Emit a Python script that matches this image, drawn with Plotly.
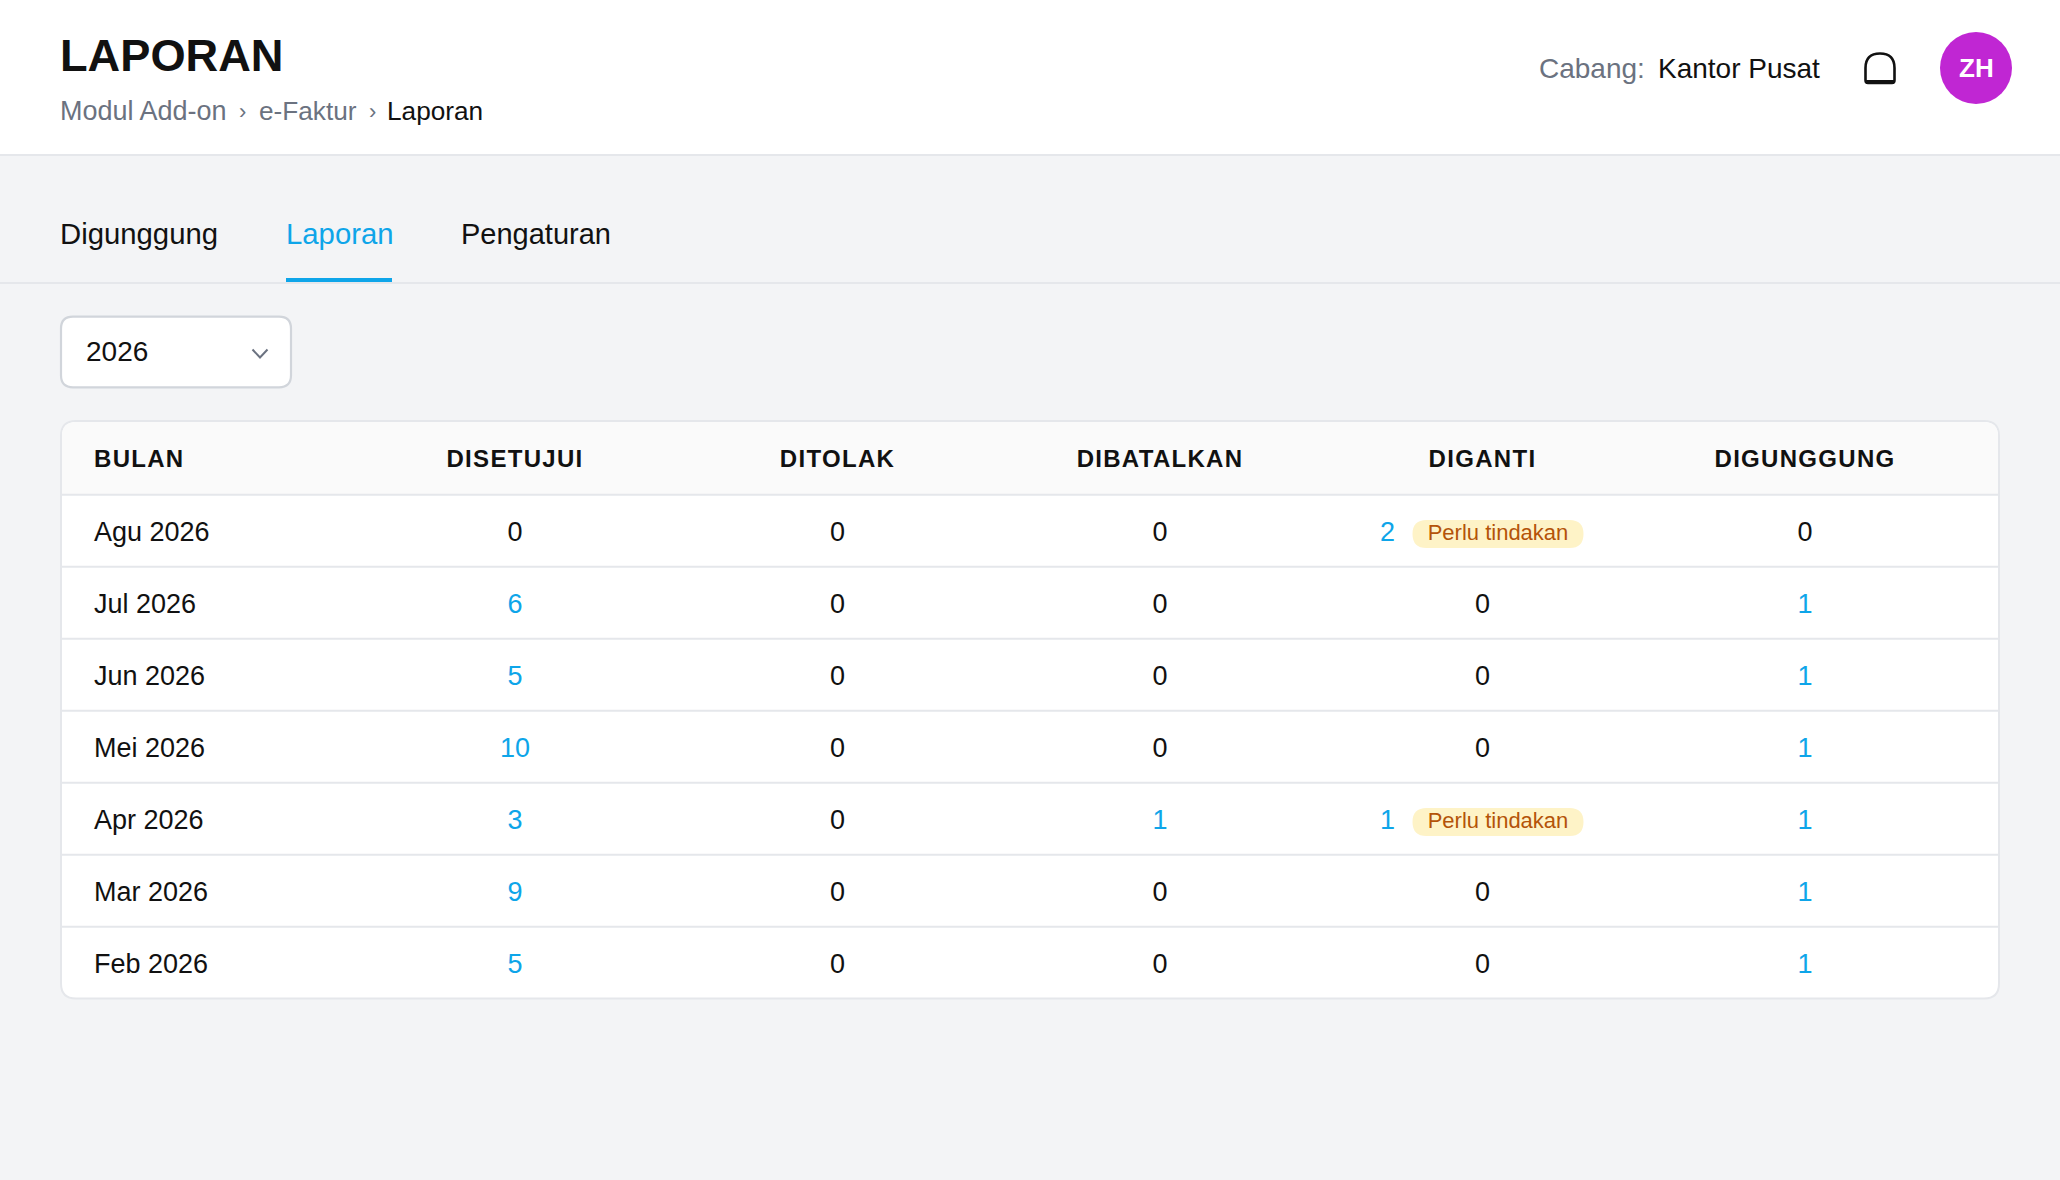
import plotly.graph_objects as go

columns = ['BULAN', 'DISETUJUI', 'DITOLAK', 'DIBATALKAN', 'DIGANTI', 'DIGUNGGUNG']
months = ['Agu 2026', 'Jul 2026', 'Jun 2026', 'Mei 2026', 'Apr 2026', 'Mar 2026', 'Feb 2026']
disetujui = [0, 6, 5, 10, 3, 9, 5]
ditolak = [0, 0, 0, 0, 0, 0, 0]
dibatalkan = [0, 0, 0, 0, 1, 0, 0]
diganti = [2, 0, 0, 0, 1, 0, 0]
digunggung = [0, 1, 1, 1, 1, 1, 1]
tabs = ['Digunggung', 'Laporan', 'Pengaturan']
badge_text = 'Perlu tindakan'

W = 2060
H = 1180
FONT = 'Liberation Sans'
INK = '#111111'
GREY = '#6b7280'
BLUE = '#0ea5e9'
LINE = '#e5e7eb'

month_x = 94
col_start = 515
col_step = 322.5
head_y = 461
row_start = 534
row_step = 72


def round_rect(x0, y0, x1, y1, r):
    return (f'M{x0 + r},{y0} L{x1 - r},{y0} Q{x1},{y0} {x1},{y0 + r} '
            f'L{x1},{y1 - r} Q{x1},{y1} {x1 - r},{y1} L{x0 + r},{y1} '
            f'Q{x0},{y1} {x0},{y1 - r} L{x0},{y0 + r} Q{x0},{y0} {x0 + r},{y0} Z')


def rect(fig, x0, y0, x1, y1, color):
    fig.add_shape(type='rect', x0=x0, y0=y0, x1=x1, y1=y1,
                  fillcolor=color, line_width=0, layer='below')


def label(fig, x, y, text, size, color=INK, bold=False, anchor='left'):
    fig.add_annotation(x=x, y=y, text=f'<b>{text}</b>' if bold else text,
                       showarrow=False, xanchor=anchor, yanchor='middle',
                       borderpad=0,
                       font=dict(family=FONT, size=size, color=color))


fig = go.Figure()

# page header
rect(fig, 0, 0, W, 154, 'white')
rect(fig, 0, 154, W, 156, LINE)
rect(fig, 0, 282, W, 284, LINE)
rect(fig, 286, 278, 392, 282, BLUE)

label(fig, 59, 55, 'LAPORAN', 45.2, bold=True)
label(fig, 59, 111, 'Modul Add-on', 27, GREY)
label(fig, 242.5, 111, '›', 22, GREY, anchor='center')
label(fig, 258, 111, 'e-Faktur', 26.2, GREY)
label(fig, 372, 111, '›', 22, GREY, anchor='center')
label(fig, 386, 111, 'Laporan', 26.2)

label(fig, 1538, 68, 'Cabang:', 28, GREY)
label(fig, 1657, 68, 'Kantor Pusat', 28)

# bell icon
fig.add_shape(type='path', layer='below', line=dict(color=INK, width=2.6), fillcolor='white',
              path='M1865.5,80 L1865.5,68 C1865.5,58 1871,53.5 1880,53.5 C1889,53.5 1894.5,58 1894.5,68 L1894.5,80 '
                   'C1894.5,82.5 1893.5,83 1892,83 L1868,83 C1866.5,83 1865.5,82.5 1865.5,80 Z')
rect(fig, 1866, 80, 1894, 84, INK)
fig.add_shape(type='circle', x0=1940, y0=32, x1=2012, y1=104, fillcolor='#c026d3',
              line_width=0, layer='below')
label(fig, 1976, 68, 'ZH', 26, 'white', bold=True, anchor='center')

# tabs and year picker
for tab, x, y, size, color in zip(tabs, [59, 285, 460], [233, 233, 234], [29.3, 29.3, 29], [INK, BLUE, INK]):
    label(fig, x, y, tab, size, color)

fig.add_shape(type='path', path=round_rect(61, 316.7, 291, 387.3, 12), fillcolor='white',
              line=dict(color='#d1d5db', width=2.2), layer='below')
label(fig, 85, 351.5, '2026', 28)
fig.add_shape(type='path', path='M252.5,349.5 L260,357.5 L267.5,349.5',
              line=dict(color=GREY, width=2), layer='below')

# table card
fig.add_shape(type='path', path=round_rect(61, 421, 1999, 998.5, 15), fillcolor='white',
              line=dict(color=LINE, width=2), layer='below')
fig.add_shape(type='path', layer='below', fillcolor='#fafafa', line_width=0,
              path='M62,494 L62,436 Q62,422 76,422 L1984,422 Q1998,422 1998,436 L1998,494 Z')
for i in range(len(months)):
    rect(fig, 62, 493.8 + i * row_step, 1998, 495.8 + i * row_step, LINE)

row_y = [row_start + i * row_step for i in range(len(months))]
col_x = [col_start + i * col_step for i in range(5)]

fig.add_trace(go.Scatter(
    x=col_x, y=[head_y] * 5, mode='text',
    text=[f'<span style="letter-spacing:1.3px"><b>{c}</b></span>' for c in columns[1:]],
    textposition='middle center',
    textfont=dict(family=FONT, size=24, color=INK)))
fig.add_trace(go.Scatter(
    x=[month_x], y=[head_y], mode='text',
    text=[f'<span style="letter-spacing:1.3px"><b>{columns[0]}</b></span>'],
    textposition='middle right',
    textfont=dict(family=FONT, size=24, color=INK)))
fig.add_trace(go.Scatter(
    x=[month_x] * len(months), y=row_y, mode='text', text=months,
    textposition='middle right',
    textfont=dict(family=FONT, size=27, color=INK)))

series = [disetujui, ditolak, dibatalkan, diganti, digunggung]
for x, values in zip(col_x, series):
    has_badge = values is diganti
    xs = [x - 95 if has_badge and v > 0 else x for v in values]
    fig.add_trace(go.Scatter(
        x=xs, y=row_y, mode='text', text=[str(v) for v in values],
        textposition='middle center',
        textfont=dict(family=FONT, size=27,
                      color=[BLUE if v > 0 else INK for v in values])))

# action badges
badge_rows = [row_start - 3 + i * row_step for i, v in enumerate(diganti) if v > 0]
for y in badge_rows:
    fig.add_shape(type='path', path=round_rect(1412.5, y - 11, 1583.5, y + 17, 14),
                  fillcolor='#fef3c7', line_width=0, layer='below')
fig.add_trace(go.Scatter(
    x=[1498] * len(badge_rows), y=[y + 3.5 for y in badge_rows], mode='text',
    text=[badge_text] * len(badge_rows), textposition='middle center',
    textfont=dict(family=FONT, size=22, color='#b45309')))

fig.update_layout(
    width=W, height=H, showlegend=False,
    margin=dict(l=0, r=0, t=0, b=0, pad=0),
    paper_bgcolor='#f3f4f6', plot_bgcolor='#f3f4f6',
    xaxis=dict(range=[0, W], visible=False, fixedrange=True),
    yaxis=dict(range=[H, 0], visible=False, fixedrange=True),
    hovermode=False,
)

fig.write_html("out.html", config=dict(displayModeBar=False),
               post_script="document.body.style.margin='0';document.body.style.overflow='hidden';")
